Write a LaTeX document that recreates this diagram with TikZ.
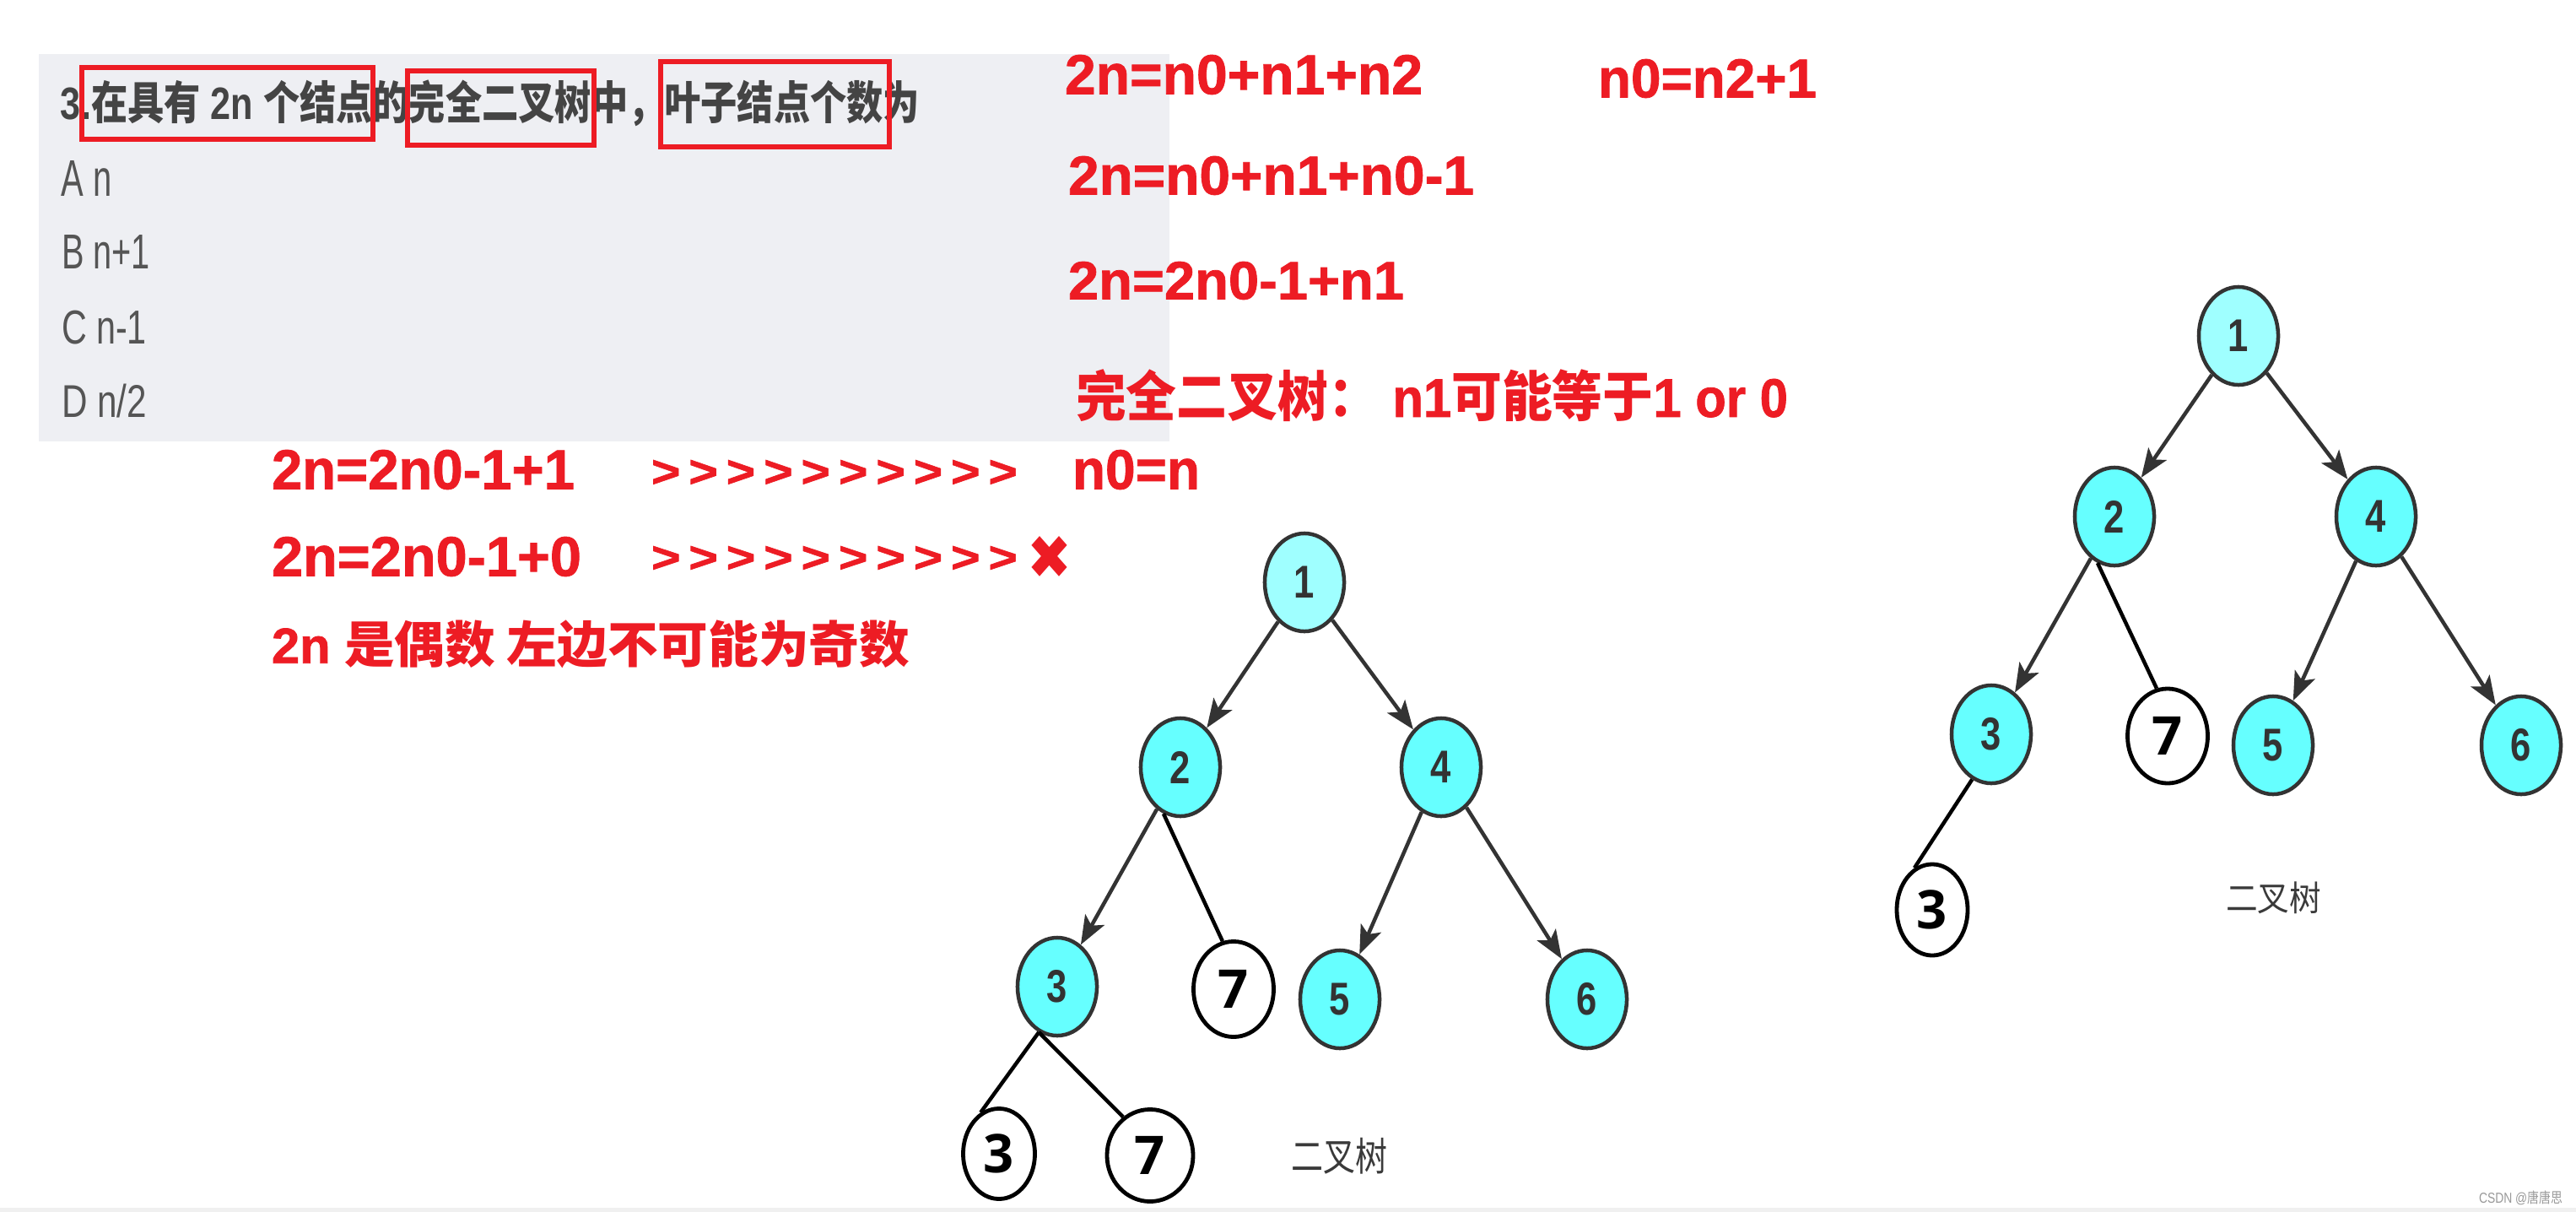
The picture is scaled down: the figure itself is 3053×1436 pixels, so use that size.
\documentclass[tikz,border=0pt]{standalone}
\usepackage{fontspec}
\usepackage{graphicx}
\usetikzlibrary{shapes.geometric,arrows.meta}
\setmainfont{Liberation Sans}
\newfontfamily\heavy[FakeBold=1.2]{Liberation Sans Bold}
\newfontfamily\cjk{Noto Sans CJK SC}
\newfontfamily\osans{Open Sans}
\newfontfamily\djv{DejaVu Sans}
\newlength\pxu \setlength\pxu{0.01cm}
\newcommand\fitt[3]{\resizebox*{#1\pxu}{#2\pxu}{#3}}
\newcommand\dg[1]{\scalebox{0.8}[1]{#1}}
\definecolor{qred}{HTML}{ED1C24}
\definecolor{boxgray}{HTML}{EEEFF3}
\definecolor{stripgray}{HTML}{F0F0F0}
\definecolor{qtext}{HTML}{444444}
\definecolor{opttext}{HTML}{555555}
\definecolor{cyanA}{HTML}{9FFFFF}
\definecolor{cyanB}{HTML}{66FFFF}
\definecolor{edgegray}{HTML}{333333}
\definecolor{capgray}{HTML}{3A3A3A}
\definecolor{wmgray}{HTML}{999999}
\begin{document}
\begin{tikzpicture}[x=0.01cm,y=-0.01cm,
  txt/.style={inner sep=0pt,outer sep=0pt,anchor=north west},
  rtxt/.style={txt,text=qred,font=\heavy},
  redbox/.style={draw=qred,line width=0.055cm},
  cnode/.style={ellipse,draw=edgegray,line width=0.045cm,fill=cyanB,minimum width=0.94cm,minimum height=1.16cm,inner sep=0pt,text=edgegray,font=\bfseries\fontsize{15.5}{16}\selectfont},
  cnodeA/.style={cnode,fill=cyanA},
  wnode/.style={ellipse,draw=black,line width=0.048cm,fill=white,inner sep=0pt,text=black,font=\osans\bfseries\fontsize{18}{18}\selectfont},
  arr/.style={draw=edgegray,line width=0.045cm,-{Stealth[length=0.34cm,width=0.26cm,inset=0.08cm]}},
  blk/.style={draw=black,line width=0.045cm}]
\useasboundingbox (0,0) rectangle (3053,1436);
\fill[white] (0,0) rectangle (3053,1436);
\fill[boxgray] (46,64) rectangle (1386,523);
\fill[stripgray] (0,1431) rectangle (3053,1436);

% question
\node[txt] (q) at (72,95) {\fitt{1018}{55}{\color{qtext}\bfseries 3.{\cjk\bfseries 在具有}~2n~{\cjk\bfseries 个结点的完全二叉树中，叶子结点个数为}}};
\draw[redbox] (97,80) rectangle (442,165);
\draw[redbox] (483,84) rectangle (704,172);
\draw[redbox] (783,73) rectangle (1054,174);
\node[txt] (oa) at (73,190) {\fitt{60}{42}{\color{opttext}A n}};
\node[txt] (ob) at (73,278) {\fitt{105}{40}{\color{opttext}B n+1}};
\node[txt] (oc) at (73,368) {\fitt{101}{40}{\color{opttext}C n-1}};
\node[txt] (od) at (73,455) {\fitt{101}{40}{\color{opttext}D n/2}};

% red notes
\node[rtxt] (r1) at (1262,65) {\fitt{424}{47}{2n=n0+n1+n2}};
\node[rtxt] (r2) at (1894,70) {\fitt{259}{46}{n0=n2+1}};
\node[rtxt] (r3) at (1266,185) {\fitt{481}{46}{2n=n0+n1+n0-1}};
\node[rtxt] (r4) at (1266,310) {\fitt{398}{45}{2n=2n0-1+n1}};
\node[rtxt] (r5) at (1275,438) {\fitt{844}{62}{{\cjk\bfseries 完全二叉树：}~n1{\cjk\bfseries 可能等于}1 or 0}};
\node[rtxt] (r6) at (322,533) {\fitt{359}{47}{2n=2n0-1+1}};
\node[rtxt] (c1) at (772,545) {\fitt{434}{32}{>\,>\,>\,>\,>\,>\,>\,>\,>\,>}};
\node[rtxt] (r8) at (1271,533) {\fitt{151}{47}{n0=n}};
\node[rtxt] (r9) at (322,636) {\fitt{367}{47}{2n=2n0-1+0}};
\node[rtxt] (c2) at (772,647) {\fitt{434}{31}{>\,>\,>\,>\,>\,>\,>\,>\,>\,>}};
\node[rtxt] (xx) at (1217,635) {\fitt{53}{50}{\djv ✖}};
\node[rtxt] (r11) at (322,735) {\fitt{756}{57}{2n {\cjk\bfseries 是偶数 左边不可能为奇数}}};

% left tree
\node[cnodeA] (L1) at (1546,690) {\dg{1}};
\node[cnode] (L2) at (1399,909) {\dg{2}};
\node[cnode] (L4) at (1708,909) {\dg{4}};
\node[cnode] (L3) at (1253,1169) {\dg{3}};
\node[cnode] (L5) at (1588,1184) {\dg{5}};
\node[cnode] (L6) at (1881,1184) {\dg{6}};
\node[wnode,minimum width=0.95cm,minimum height=1.13cm] (L7) at (1462,1172) {7};
\node[wnode,minimum width=0.85cm,minimum height=1.07cm] (Lb3) at (1184,1367) {3};
\node[wnode,minimum width=1.02cm,minimum height=1.09cm] (Lb7) at (1363,1369) {7};
\draw[arr] (L1) -- (L2);
\draw[arr] (L1) -- (L4);
\draw[arr] (L2) -- (L3);
\draw[arr] (L4) -- (L5);
\draw[arr] (L4) -- (L6);
\draw[blk] (L2.-110) -- (L7.103);
\draw[blk] (L3.-112) -- (Lb3.114);
\draw[blk] (L3.-112) -- (Lb7.125);
\node[txt] (capL) at (1530,1348) {\fitt{114}{43}{\color{capgray}\cjk 二叉树}};

% right tree
\node[cnodeA] (R1) at (2653,398) {\dg{1}};
\node[cnode] (R2) at (2506,612) {\dg{2}};
\node[cnode] (R4) at (2816,612) {\dg{4}};
\node[cnode] (R3) at (2360,870) {\dg{3}};
\node[cnode] (R5) at (2694,883) {\dg{5}};
\node[cnode] (R6) at (2988,883) {\dg{6}};
\node[wnode,minimum width=0.95cm,minimum height=1.12cm] (R7) at (2569,872) {7};
\node[wnode,minimum width=0.84cm,minimum height=1.08cm] (Rb3) at (2290,1078) {3};
\draw[arr] (R1) -- (R2);
\draw[arr] (R1) -- (R4);
\draw[arr] (R2) -- (R3);
\draw[arr] (R4) -- (R5);
\draw[arr] (R4) -- (R6);
\draw[blk] (R2.-110) -- (R7.103);
\draw[blk] (R3.-113) -- (Rb3.113);
\node[txt] (capR) at (2638,1045) {\fitt{113}{38}{\color{capgray}\cjk 二叉树}};

% watermark
\node[txt] (wm) at (2938,1411) {\fitt{99}{17}{\color{wmgray}CSDN @{\cjk 唐唐思}}};
\end{tikzpicture}
\end{document}
